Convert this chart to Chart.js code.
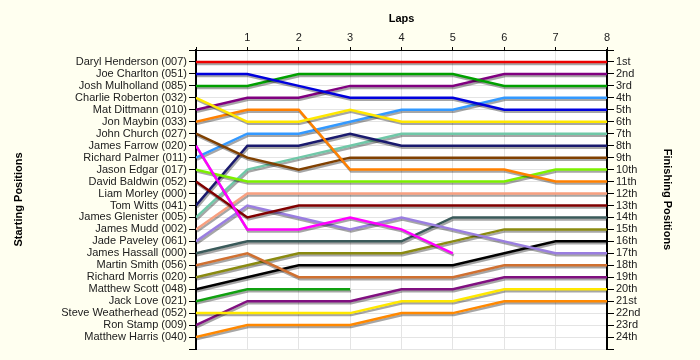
<!DOCTYPE html>
<html>
<head>
<meta charset="utf-8">
<script src="https://cdn.jsdelivr.net/npm/chart.js@4"></script>
<style>
  html, body { margin: 0; padding: 0; background: #fffff0; }
  #wrap { width: 700px; height: 360px; }
</style>
</head>
<body>
<div id="wrap"><canvas id="raceChart" width="700" height="360"></canvas></div>
<script>
const laps = [0, 1, 2, 3, 4, 5, 6, 7, 8];

const drivers = [
    'Daryl Henderson (007)', 'Joe Charlton (051)', 'Josh Mulholland (085)', 'Charlie Roberton (032)',
    'Mat Dittmann (010)', 'Jon Maybin (033)', 'John Church (027)', 'James Farrow (020)',
    'Richard Palmer (011)', 'Jason Edgar (017)', 'David Baldwin (052)', 'Liam Morley (000)',
    'Tom Witts (041)', 'James Glenister (005)', 'James Mudd (002)', 'Jade Paveley (061)',
    'James Hassall (000)', 'Martin Smith (056)', 'Richard Morris (020)', 'Matthew Scott (048)',
    'Jack Love (021)', 'Steve Weatherhead (052)', 'Ron Stamp (009)', 'Matthew Harris (040)'
];

const finishLabels = [
    '1st', '2nd', '3rd', '4th', '5th', '6th', '7th', '8th', '9th', '10th', '11th', '12th',
    '13th', '14th', '15th', '16th', '17th', '18th', '19th', '20th', '21st', '22nd', '23rd', '24th'
];

// position of each driver after each lap (lap 0 = grid)
const lapPositions = [
    [1, 1, 1, 1, 1, 1, 1, 1, 1],
    [2, 2, 3, 4, 4, 4, 5, 5, 5],
    [3, 3, 2, 2, 2, 2, 3, 3, 3],
    [4, 6, 6, 5, 6, 6, 6, 6, 6],
    [5, 4, 4, 3, 3, 3, 2, 2, 2],
    [6, 5, 5, 10, 10, 10, 10, 11, 11],
    [7, 9, 10, 9, 9, 9, 9, 9, 9],
    [8, 15, 15, 14, 15, 17],
    [9, 7, 7, 6, 5, 5, 4, 4, 4],
    [10, 11, 11, 11, 11, 11, 11, 10, 10],
    [11, 14, 13, 13, 13, 13, 13, 13, 13],
    [],
    [13, 8, 8, 7, 8, 8, 8, 8, 8],
    [14, 10, 9, 8, 7, 7, 7, 7, 7],
    [15, 12, 12, 12, 12, 12, 12, 12, 12],
    [16, 13, 14, 15, 14, 15, 16, 17, 17],
    [17, 16, 16, 16, 16, 14, 14, 14, 14],
    [18, 17, 19, 19, 19, 19, 18, 18, 18],
    [19, 18, 17, 17, 17, 16, 15, 15, 15],
    [20, 19, 18, 18, 18, 18, 17, 16, 16],
    [21, 20, 20, 20],
    [22, 22, 22, 22, 21, 21, 20, 20, 20],
    [23, 21, 21, 21, 20, 20, 19, 19, 19],
    [24, 23, 23, 23, 22, 22, 21, 21, 21]
];

const lineColors = [
    '#ee0000', '#0000dd', '#00a000', '#ffe800', '#800080', '#ff8000', '#804000', '#ff00ff',
    '#3399ff', '#7cf000', '#800000', '#ffffff', '#1a1a6e', '#70c8a8', '#f8a080', '#9a7ee0',
    '#3a5a5a', '#d07030', '#8a8a10', '#000000', '#10a010', '#ffe800', '#801080', '#ff8800'
];

const FONT = 'Liberation Sans, Arial, sans-serif';

const datasets = drivers.map((name, i) => ({
    label: name,
    data: lapPositions[i].map((p, lap) => ({ x: laps[lap], y: p })),
    borderColor: lineColors[i],
    borderWidth: 2.5,
    pointRadius: 0,
    tension: 0,
    fill: false
}));

const backgroundPlugin = {
    id: 'bg',
    beforeDraw(chart) {
        const { ctx, chartArea: a } = chart;
        ctx.save();
        ctx.fillStyle = '#fffff0';
        ctx.fillRect(0, 0, chart.width, chart.height);
        ctx.fillStyle = '#ffffff';
        ctx.fillRect(a.left, a.top, a.right - a.left, a.bottom - a.top);
        ctx.restore();
    }
};

const shadowPlugin = {
    id: 'shadow',
    beforeDatasetsDraw(chart) {
        const ctx = chart.ctx;
        ctx.save();
        ctx.shadowColor = 'rgba(0,0,0,0.35)';
        ctx.shadowOffsetX = 1;
        ctx.shadowOffsetY = 2;
        ctx.shadowBlur = 0;
    },
    afterDatasetsDraw(chart) {
        chart.ctx.restore();
    }
};

const titleFont = { family: FONT, size: 11, weight: 'bold' };
const tickFont = { family: FONT, size: 11 };

new Chart(document.getElementById('raceChart'), {
    type: 'line',
    data: { datasets },
    plugins: [backgroundPlugin, shadowPlugin],
    options: {
        responsive: false,
        animation: false,
        layout: { padding: { top: 0, bottom: 11, left: 0, right: 0 } },
        plugins: { legend: { display: false }, tooltip: { enabled: false } },
        scales: {
            x: {
                type: 'linear',
                position: 'top',
                min: 0,
                max: 8,
                afterFit: s => { s.height = 50; },
                ticks: {
                    stepSize: 1,
                    font: tickFont,
                    color: '#202020',
                    padding: 2,
                    callback: v => v === 0 ? '' : v
                },
                grid: { color: '#e4e4e4', tickColor: '#000', tickLength: 3 },
                border: { color: '#000', width: 1 },
                title: { display: true, text: 'Laps', font: titleFont, color: '#000', padding: { top: 12, bottom: 0 } }
            },
            y: {
                type: 'linear',
                position: 'left',
                reverse: true,
                min: 0,
                max: 25,
                afterFit: s => { s.width = 196; },
                ticks: {
                    stepSize: 1,
                    autoSkip: false,
                    font: tickFont,
                    color: '#202020',
                    padding: 2,
                    callback: v => drivers[v - 1] || ''
                },
                grid: { color: '#e4e4e4', tickColor: '#000', tickLength: 7 },
                border: { color: '#000', width: 2 },
                title: { display: true, text: 'Starting Positions', font: titleFont, color: '#000', padding: { top: 12, bottom: 0 } }
            },
            y2: {
                type: 'linear',
                position: 'right',
                reverse: true,
                min: 0,
                max: 25,
                afterFit: s => { s.width = 93; },
                ticks: {
                    stepSize: 1,
                    autoSkip: false,
                    font: tickFont,
                    color: '#202020',
                    padding: 2,
                    callback: v => finishLabels[v - 1] || ''
                },
                grid: { drawOnChartArea: false, tickColor: '#000', tickLength: 7 },
                border: { color: '#000', width: 2 },
                title: { display: true, text: 'Finishing Positions', font: titleFont, color: '#000', padding: { top: 26, bottom: 0 } }
            }
        }
    }
});
</script>
</body>
</html>
